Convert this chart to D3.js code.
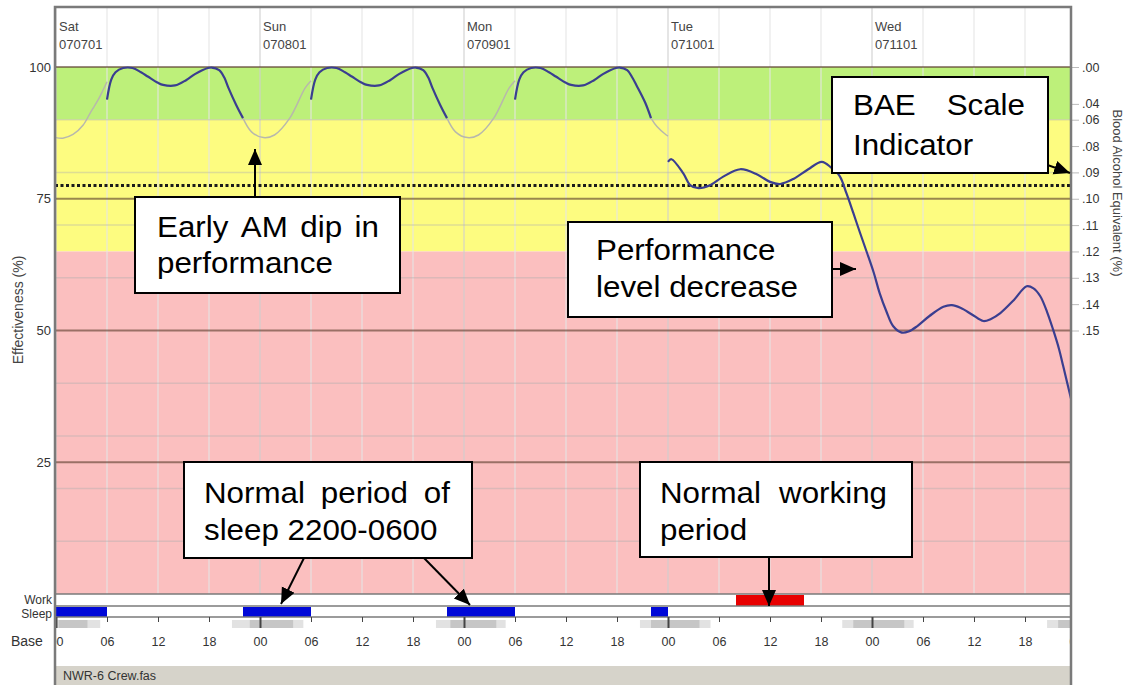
<!DOCTYPE html>
<html>
<head>
<meta charset="utf-8">
<script src="https://cdn.jsdelivr.net/npm/d3@7"></script>
<style>
  body { margin: 0; background: #fff; }
  svg { display: block; font-family: "Liberation Sans", Arial, sans-serif; }
</style>
</head>
<body>
<svg id="chart" width="1128" height="685"></svg>
<script>
// ---- data ----
const dayNames = ["Sat", "Sun", "Mon", "Tue", "Wed"];
const dayDates = ["070701", "070801", "070901", "071001", "071101"];
const hourLabels = ["00", "06", "12", "18"];

const effTicks = [100, 75, 50, 25];
const effMinor = [10, 20, 30, 40, 60, 70, 80, 90];
const bandLimits = [100, 90, 65, 0];          // green / yellow / pink
const criterion = 77.5;                        // dotted line

const baeLabels = [".00", ".04", ".06", ".08", ".09", ".10", ".11", ".12", ".13", ".14", ".15"];
const baeEff = [100, 93, 90, 85, 80, 75, 70, 65, 60, 55, 50];

// hours from Sat 00:00
const sleepPeriods = [[0, 6], [22, 30], [46, 54], [70, 72]];
const workPeriods = [[80, 88]];
const baseLight = [[0, 5.2], [20.7, 29.1], [44.7, 52.9], [68.7, 77], [92.5, 100.9], [116.6, 120]];
const baseDark = [[0.3, 3.7], [22.8, 27.9], [46.4, 51.8], [70, 75.7], [93.8, 99.8], [117.9, 120]];

// effectiveness while asleep (grey)
const asleepSat = [[0, 86.6], [0.8, 86.5], [2, 87.2], [3.2, 89.0], [4.1, 91.5], [4.9, 93.6], [5.5, 95.5], [6, 97.2]];
const asleepSatNight = [[22, 90.3], [23, 87.7], [24.4, 86.6], [25.7, 87.1], [27.5, 90.3], [29.3, 96.0], [30, 97.4]];
const asleepSunNight = [[46, 90.3], [47, 87.7], [48.4, 86.6], [49.7, 87.1], [51.5, 90.3], [53.3, 96.0], [54, 97.4]];
const asleepMonNight = [[70, 90.3], [70.7, 88.7], [71.8, 87.1], [72, 86.9]];

// effectiveness while awake (blue)
const awakeSat = [[6, 93.8], [6.5, 97.6], [7, 99.0], [7.9, 99.8], [9, 99.8], [10, 99.0], [10.8, 98.2], [12, 97.0],
  [12.6, 96.6], [14, 96.5], [15.3, 97.5], [16.3, 98.6], [17.2, 99.4], [18.3, 99.9], [19.2, 99.4], [19.8, 98.0],
  [20.3, 96.0], [21.2, 92.8], [22, 90.3]];
const awakeSun = [[30, 93.8], [30.5, 97.6], [31, 99.0], [31.9, 99.8], [33, 99.8], [34, 99.0], [34.8, 98.2], [36, 97.0],
  [36.6, 96.6], [38, 96.5], [39.3, 97.5], [40.3, 98.6], [41.2, 99.4], [42.3, 99.9], [43.2, 99.4], [43.8, 98.0],
  [44.3, 96.0], [45.2, 92.8], [46, 90.3]];
const awakeMon = [[54, 93.8], [54.5, 97.6], [55, 99.0], [55.9, 99.8], [57, 99.8], [58, 99.0], [58.8, 98.2], [60, 97.0],
  [60.6, 96.6], [62, 96.5], [63.3, 97.5], [64.3, 98.6], [65.2, 99.4], [66.3, 99.9], [67.2, 99.4], [67.8, 98.0],
  [68.3, 96.5], [69.3, 93.3], [70, 90.3]];
const awakeTueWed = [[72, 82.0], [72.4, 82.5], [73.8, 79.8], [74.6, 77.6], [75.6, 77.0], [77, 77.6], [78.5, 79.2],
  [80.5, 80.6], [82.5, 79.6], [84, 78.2], [85.2, 77.8], [86.8, 78.8], [88.5, 80.6], [90.1, 82.0], [91.2, 80.9],
  [92.2, 79.3], [93.0, 76.0], [93.8, 72.3], [94.6, 68.5], [95.4, 64.8], [96.2, 61.0], [96.9, 57.1], [97.7, 53.6],
  [98.5, 50.8], [99.5, 49.6], [100.3, 49.8], [101.3, 50.8], [102.8, 52.8], [104.4, 54.5], [105.4, 54.8],
  [106.4, 54.3], [107.8, 53.0], [109.1, 51.8], [110, 52.2], [111.1, 53.3], [112.7, 55.8], [114.2, 58.4],
  [115, 58.0], [115.8, 56.5], [116.6, 53.5], [117.3, 50.2], [118, 46.5], [118.5, 43.2], [119.5, 36.5]];

// ---- layout ----
const svg = d3.select("#chart");
const plotLeft = 55, plotRight = 1071, plotTop = 7;
const x = d3.scaleLinear().domain([0, 120]).range([56, 1076]);
const y = d3.scaleLinear().domain([0, 100]).range([594, 67]);
const rowWork = [594, 606], rowSleep = [606, 617];

const defs = svg.append("defs");
defs.append("clipPath").attr("id", "plotClip")
  .append("rect").attr("x", plotLeft).attr("y", plotTop).attr("width", plotRight - plotLeft).attr("height", y(0) - plotTop);
defs.append("clipPath").attr("id", "axisClip")
  .append("rect").attr("x", plotLeft).attr("y", 600).attr("width", plotRight - plotLeft).attr("height", 60);
defs.append("marker")
  .attr("id", "arrow").attr("markerUnits", "userSpaceOnUse")
  .attr("markerWidth", 18).attr("markerHeight", 16)
  .attr("refX", 16).attr("refY", 7).attr("orient", "auto")
  .append("path").attr("d", "M0,0 L16,7 L0,14 z").attr("fill", "#000");

const plot = svg.append("g").attr("clip-path", "url(#plotClip)");

// colour bands
const bandColors = ["#bdf07a", "#fdfc80", "#fbbfbf"];
d3.pairs(bandLimits).forEach(([hi, lo], i) => {
  plot.append("rect")
    .attr("x", plotLeft).attr("width", plotRight - plotLeft)
    .attr("y", y(hi)).attr("height", y(lo) - y(hi))
    .attr("fill", bandColors[i]);
});

// vertical grid every 6h
const hourTicks = d3.range(0, 121, 6);
plot.selectAll(".vgrid").data(hourTicks).join("line")
  .attr("x1", d => x(d)).attr("x2", d => x(d))
  .attr("y1", plotTop).attr("y2", y(0))
  .attr("stroke", d => d % 24 === 0 ? "#cfcfcf" : "#e6e6e6")
  .attr("stroke-width", 1.5)
  .attr("opacity", 0.7);

// horizontal grid
plot.selectAll(".hminor").data(effMinor).join("line")
  .attr("x1", plotLeft).attr("x2", plotRight)
  .attr("y1", d => y(d)).attr("y2", d => y(d))
  .attr("stroke", "#b0b0b0").attr("stroke-width", 1.5).attr("opacity", 0.4);
plot.selectAll(".hmajor").data(effTicks).join("line")
  .attr("x1", plotLeft).attr("x2", plotRight)
  .attr("y1", d => y(d)).attr("y2", d => y(d))
  .attr("stroke", "#5a3c2c").attr("stroke-width", 2).attr("opacity", 0.6);

plot.append("line")
  .attr("x1", plotLeft).attr("x2", plotRight)
  .attr("y1", y(criterion)).attr("y2", y(criterion))
  .attr("stroke", "#1a1a1a").attr("stroke-width", 3)
  .attr("stroke-dasharray", "3,2.5");

// effectiveness curve
const line = d3.line().x(d => x(d[0])).y(d => y(d[1])).curve(d3.curveCatmullRom.alpha(0.5));
[asleepSat, asleepSatNight, asleepSunNight, asleepMonNight].forEach(seg => {
  plot.append("path").attr("d", line(seg))
    .attr("fill", "none").attr("stroke", "#b8b8ac").attr("stroke-width", 1.5);
});
[awakeSat, awakeSun, awakeMon, awakeTueWed].forEach(seg => {
  plot.append("path").attr("d", line(seg))
    .attr("fill", "none").attr("stroke", "#3a3e90").attr("stroke-width", 2.2);
});

// work / sleep / base rows
const rows = svg.append("g");
rows.selectAll(".work").data(workPeriods).join("rect")
  .attr("x", d => x(d[0])).attr("width", d => x(d[1]) - x(d[0]))
  .attr("y", rowWork[0] + 1).attr("height", rowWork[1] - rowWork[0] - 1)
  .attr("fill", "#e80000");
rows.selectAll(".sleep").data(sleepPeriods).join("rect")
  .attr("x", d => x(d[0])).attr("width", d => x(d[1]) - x(d[0]))
  .attr("y", rowSleep[0] + 1).attr("height", rowSleep[1] - rowSleep[0] - 1)
  .attr("fill", "#0008d8");
[rowWork[0], rowWork[1], rowSleep[1]].forEach(yy => {
  rows.append("line").attr("x1", plotLeft).attr("x2", plotRight).attr("y1", yy).attr("y2", yy)
    .attr("stroke", "#7a7a7a").attr("stroke-width", 1.5);
});

const base = svg.append("g").attr("clip-path", "url(#axisClip)");
base.selectAll(".bl").data(baseLight).join("rect")
  .attr("x", d => x(d[0])).attr("width", d => x(d[1]) - x(d[0]))
  .attr("y", 620).attr("height", 8).attr("fill", "#e2e2e2");
base.selectAll(".bd").data(baseDark).join("rect")
  .attr("x", d => x(d[0])).attr("width", d => x(d[1]) - x(d[0]))
  .attr("y", 620).attr("height", 8).attr("fill", "#c6c6c6");

const xAxis = base.append("g")
  .attr("transform", `translate(0,${rowSleep[1]})`)
  .call(d3.axisBottom(x).tickValues(hourTicks).tickSize(5).tickPadding(15)
    .tickFormat(h => hourLabels[(h / 6) % 4]));
xAxis.select(".domain").remove();
xAxis.selectAll(".tick line").attr("stroke", "#444")
  .attr("y2", d => d % 24 === 0 ? 11 : 5)
  .attr("stroke-width", d => d % 24 === 0 ? 2 : 1);
xAxis.selectAll(".tick text").attr("fill", "#333")
  .style("font-size", "12.5px").style("font-family", "Liberation Sans, Arial, sans-serif");

// left axis
const yAxis = svg.append("g").attr("transform", `translate(${plotLeft},0)`)
  .call(d3.axisLeft(y).tickValues(effTicks).tickSize(0).tickPadding(4));
yAxis.select(".domain").remove();
yAxis.selectAll("text").attr("fill", "#333")
  .style("font-size", "13px").style("font-family", "Liberation Sans, Arial, sans-serif");

// right BAE axis
const bAxis = svg.append("g").attr("transform", `translate(${plotRight + 1},0)`)
  .call(d3.axisRight(y).tickValues(baeEff).tickSize(7).tickPadding(3)
    .tickFormat((d, i) => baeLabels[i]));
bAxis.select(".domain").remove();
bAxis.selectAll("line").attr("stroke", "#bbb");
bAxis.selectAll("text").attr("fill", "#333")
  .style("font-size", "12.5px").style("font-family", "Liberation Sans, Arial, sans-serif");

// day header
dayNames.forEach((name, i) => {
  svg.append("text").attr("x", x(i * 24) + 3).attr("y", 31)
    .attr("fill", "#444").style("font-size", "13px").text(name);
  svg.append("text").attr("x", x(i * 24) + 3).attr("y", 49)
    .attr("fill", "#444").style("font-size", "13px").text(dayDates[i]);
});

// axis titles and row labels
svg.append("text").attr("transform", "translate(23,310) rotate(-90)")
  .attr("text-anchor", "middle").attr("fill", "#444").style("font-size", "14px")
  .text("Effectiveness (%)");
svg.append("text").attr("transform", "translate(1113,193) rotate(90)")
  .attr("text-anchor", "middle").attr("fill", "#444").style("font-size", "13px")
  .text("Blood Alcohol Equivalent (%)");
svg.append("text").attr("x", 52).attr("y", 603.5).attr("text-anchor", "end")
  .attr("fill", "#333").style("font-size", "12px").text("Work");
svg.append("text").attr("x", 52).attr("y", 618).attr("text-anchor", "end")
  .attr("fill", "#333").style("font-size", "12px").text("Sleep");
svg.append("text").attr("x", 11).attr("y", 646)
  .attr("fill", "#333").style("font-size", "14px").text("Base");

// status bar
svg.append("rect").attr("x", plotLeft).attr("y", 666).attr("width", plotRight - plotLeft).attr("height", 19)
  .attr("fill", "#d6d3ca");
svg.append("text").attr("x", 63).attr("y", 680).attr("fill", "#333")
  .style("font-size", "12.5px").text("NWR-6 Crew.fas");

// frame
svg.append("path")
  .attr("d", `M${plotLeft},685 V${plotTop} H${plotRight} V685`)
  .attr("fill", "none").attr("stroke", "#7a7a7a").attr("stroke-width", 2.5);

// ---- callouts ----
const callouts = [
  { box: [135, 197, 265, 96], tx: [157, 379], base: [237, 273],
    lines: [["Early AM dip in", true], ["performance", false]],
    arrows: [[255, 197, 255, 149]] },
  { box: [568, 222, 264, 95], tx: [596, 800], base: [260, 297],
    lines: [["Performance", false], ["level decrease", false]],
    arrows: [[832, 269, 856, 269]] },
  { box: [832, 77, 216, 96], tx: [853, 1025], base: [115, 155],
    lines: [["BAE Scale", true], ["Indicator", false]],
    arrows: [[1000, 148, 1070, 173]] },
  { box: [184, 462, 288, 96], tx: [204, 450], base: [503, 540],
    lines: [["Normal period of", true], ["sleep 2200-0600", false]],
    arrows: [[304, 558, 281, 604], [424, 558, 470, 605]] },
  { box: [640, 462, 272, 95], tx: [660, 887], base: [503, 540],
    lines: [["Normal working", true], ["period", false]],
    arrows: [[769, 557, 769, 606]] }
];

const stretch = 1.08;
callouts.forEach(c => {
  const g = svg.append("g");
  c.arrows.forEach(a => {
    g.append("line").attr("x1", a[0]).attr("y1", a[1]).attr("x2", a[2]).attr("y2", a[3])
      .attr("stroke", "#000").attr("stroke-width", 2).attr("marker-end", "url(#arrow)");
  });
  g.append("rect").attr("x", c.box[0]).attr("y", c.box[1]).attr("width", c.box[2]).attr("height", c.box[3])
    .attr("fill", "#fff").attr("stroke", "#000").attr("stroke-width", 2);
  c.lines.forEach(([txt, justify], i) => {
    const words = txt.split(" ");
    const nodes = words.map(w => g.append("text").attr("y", c.base[i])
      .attr("fill", "#000").style("font-size", "29px").text(w));
    const widths = nodes.map(n => n.node().getComputedTextLength() * stretch);
    nodes.forEach((n, j) => n.attr("textLength", widths[j]).attr("lengthAdjust", "spacingAndGlyphs"));
    const gap = justify && words.length > 1
      ? (c.tx[1] - c.tx[0] - d3.sum(widths)) / (words.length - 1)
      : 8.1 * stretch;
    let cx = c.tx[0];
    nodes.forEach((n, j) => { n.attr("x", cx); cx += widths[j] + gap; });
  });
});
</script>
</body>
</html>
